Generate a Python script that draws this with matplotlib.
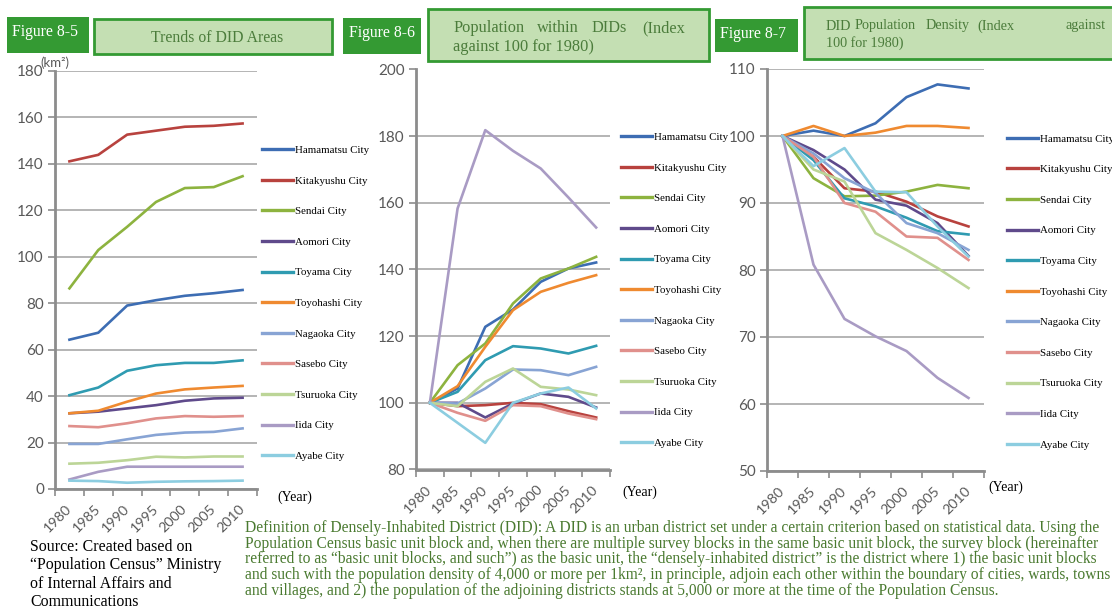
import numpy as np
import matplotlib.pyplot as plt
from matplotlib.patches import Rectangle

W, H = 1112, 606

anos = ['1980', '1985', '1990', '1995', '2000', '2005', '2010']
cidades = ['Hamamatsu City', 'Kitakyushu City', 'Sendai City', 'Aomori City',
           'Toyama City', 'Toyohashi City', 'Nagaoka City', 'Sasebo City',
           'Tsuruoka City', 'Iida City', 'Ayabe City']
cores = ['#3d6db3', '#b8423e', '#8db33f', '#5f4a8b', '#2f9bb1', '#ef8a30',
         '#88a4d4', '#e0908c', '#bcd597', '#a99bc4', '#8ccde0']

# Figura 8-5 : area das DIDs (km2)
area = [
    [64.3, 67.3, 79.0, 81.3, 83.2, 84.3, 85.7],        # Hamamatsu
    [141.1, 143.9, 152.6, 154.3, 156.0, 156.4, 157.4], # Kitakyushu
    [86.4, 102.9, 112.9, 123.6, 129.6, 130.0, 134.7],  # Sendai
    [32.6, 33.3, 34.7, 36.1, 38.0, 39.0, 39.3],        # Aomori
    [40.4, 43.7, 50.9, 53.3, 54.3, 54.3, 55.4],        # Toyama
    [32.6, 33.7, 37.6, 41.1, 42.9, 43.7, 44.4],        # Toyohashi
    [19.4, 19.4, 21.4, 23.3, 24.3, 24.6, 26.1],        # Nagaoka
    [27.1, 26.6, 28.3, 30.4, 31.4, 31.1, 31.4],        # Sasebo
    [10.9, 11.3, 12.4, 13.9, 13.6, 14.0, 14.0],        # Tsuruoka
    [4.1, 7.4, 9.6, 9.6, 9.6, 9.6, 9.6],               # Iida
    [3.6, 3.4, 2.7, 3.1, 3.3, 3.4, 3.6],               # Ayabe
]

# Figura 8-6 : populacao nas DIDs (1980 = 100)
populacao = [
    [100, 104.3, 122.8, 128.0, 136.3, 140.3, 142.1],   # Hamamatsu
    [100, 99.0, 99.3, 100.0, 99.6, 97.5, 95.6],        # Kitakyushu
    [100, 111.3, 117.8, 129.8, 137.3, 140.3, 143.8],   # Sendai
    [100, 100.0, 95.6, 99.8, 102.8, 101.8, 98.6],      # Aomori
    [100, 103.3, 112.8, 117.0, 116.3, 114.8, 117.1],   # Toyama
    [100, 105.0, 116.8, 127.8, 133.3, 136.0, 138.3],   # Toyohashi
    [100, 99.8, 104.3, 110.0, 109.8, 108.3, 110.8],    # Nagaoka
    [100, 97.0, 94.6, 99.3, 99.0, 96.8, 95.1],         # Sasebo
    [100, 99.0, 106.3, 110.3, 104.8, 104.0, 102.3],    # Tsuruoka
    [100, 158.3, 181.8, 175.6, 170.3, 161.6, 152.6],   # Iida
    [100, 94.0, 88.0, 100.0, 102.8, 104.6, 98.3],      # Ayabe
]

# Figura 8-7 : densidade populacional (1980 = 100)
densidade = [
    [100, 100.8, 100.0, 101.9, 105.8, 107.7, 107.1],   # Hamamatsu
    [100, 96.9, 92.2, 91.7, 90.2, 88.0, 86.5],         # Kitakyushu
    [100, 93.7, 91.0, 91.1, 91.7, 92.7, 92.2],         # Sendai
    [100, 97.9, 95.0, 90.5, 89.6, 87.0, 82.1],         # Aomori
    [100, 96.4, 90.7, 89.5, 87.8, 85.8, 85.3],         # Toyama
    [100, 101.5, 100.0, 100.5, 101.5, 101.5, 101.2],   # Toyohashi
    [100, 97.4, 93.7, 91.5, 87.0, 85.5, 83.0],         # Nagaoka
    [100, 96.9, 90.0, 88.7, 85.0, 84.8, 81.5],         # Sasebo
    [100, 95.0, 93.2, 85.5, 83.0, 80.3, 77.3],         # Tsuruoka
    [100, 80.8, 72.7, 70.1, 67.9, 63.9, 60.9],         # Iida
    [100, 95.5, 98.2, 91.7, 91.6, 86.5, 82.0],         # Ayabe
]


def rect(l, t, r, b):
    return [l / W, 1 - b / H, (r - l) / W, (b - t) / H]


fig = plt.figure(figsize=(W / 100, H / 100), dpi=100, facecolor='white')


def Painel(caixa, dados, ymin, ymax, passo, leg_x, leg_y, ano_x, ano_y):
    ax = fig.add_axes(rect(*caixa))
    x = np.arange(len(anos))
    for i, serie in enumerate(dados):
        ax.plot(x, serie, color=cores[i], lw=1.9, label=cidades[i])
    ax.set_xlim(-0.5, len(anos) - 0.5)
    ax.set_ylim(ymin, ymax)
    ax.set_yticks(np.arange(ymin, ymax + 1, passo))
    ax.grid(axis='y', color='#a0a0a0', lw=1.1)
    ax.set_axisbelow(True)
    ax.set_xticks(np.arange(-0.5, len(anos), 1))
    ax.set_xticklabels([])
    ax.set_xticks(x, minor=True)
    ax.set_xticklabels(anos, minor=True, rotation=45, ha='right', va='center',
                       rotation_mode='anchor', fontfamily='Lato', fontsize=10.3,
                       color='#595959')
    ax.tick_params(axis='x', which='minor', length=0, pad=13)
    ax.tick_params(axis='x', which='major', length=5, color='#8c8c8c', width=1.2)
    ax.tick_params(axis='y', length=5, color='#8c8c8c', width=1.2, pad=3,
                   labelsize=11, labelcolor='#595959')
    for t in ax.get_yticklabels():
        t.set_fontfamily('Lato')
    for s in ['top', 'right']:
        ax.spines[s].set_visible(False)
    for s in ['left', 'bottom']:
        ax.spines[s].set_color('#8c8c8c')
        ax.spines[s].set_linewidth(2)
    leg = ax.legend(loc='upper left', bbox_to_anchor=(leg_x / W, 1 - leg_y / H),
                    bbox_transform=fig.transFigure, frameon=False, borderpad=0,
                    borderaxespad=0, handlelength=2.9, handletextpad=0.15,
                    labelspacing=1.94, prop={'family': 'Liberation Serif', 'size': 7.8})
    for l in leg.get_lines():
        l.set_linewidth(2.4)
    fig.text(ano_x / W, 1 - ano_y / H, '(Year)', family='Liberation Serif',
             fontsize=10, va='center')
    return ax


ax1 = Painel((55, 71, 257, 489), area, 0, 180, 20, 262, 145.5, 277, 497)
ax2 = Painel((416, 69.5, 610, 469.5), populacao, 80, 200, 20, 621, 132.5, 622, 492)
ax3 = Painel((767, 69, 984, 471), densidade, 50, 110, 10, 1007, 134, 988, 487)

fig.text(40 / W, 1 - 63 / H, '(km²)', family='Lato', fontsize=9.5, color='#595959',
         va='center')

# cabecalhos
verde = '#349a33'
claro = '#c4dfb3'
texto_verde = '#4b7c3b'


def Caixa(l, t, r, b, cor, borda=None):
    fig.add_artist(Rectangle((l / W, 1 - b / H), (r - l) / W, (b - t) / H,
                             transform=fig.transFigure, facecolor=cor,
                             edgecolor=borda if borda else 'none', lw=2))


Caixa(7, 17, 89, 53, verde)
Caixa(94, 19, 332, 54, claro, verde)
Caixa(343, 18, 421, 54, verde)
Caixa(428, 9, 709, 61, claro, verde)
Caixa(715, 19, 798, 52, verde)
Caixa(804, 7, 1120, 59, claro, verde)

fs_fig = 11.3
fig.text(45 / W, 1 - 32 / H, 'Figure 8-5', color='white', family='Liberation Serif',
         fontsize=fs_fig, ha='center', va='center')
fig.text(382 / W, 1 - 33 / H, 'Figure 8-6', color='white', family='Liberation Serif',
         fontsize=fs_fig, ha='center', va='center')
fig.text(753 / W, 1 - 34 / H, 'Figure 8-7', color='white', family='Liberation Serif',
         fontsize=fs_fig, ha='center', va='center')

fig.text(217 / W, 1 - 38 / H, 'Trends of DID Areas', color=texto_verde,
         family='Liberation Serif', fontsize=11.3, ha='center', va='center')

# titulo justificado, palavra por palavra
for palavra, px in [('Population', 453), ('within', 537), ('DIDs', 592), ('(Index', 642)]:
    fig.text(px / W, 1 - 28 / H, palavra, color=texto_verde, family='Liberation Serif',
             fontsize=11.8, va='center')
fig.text(453 / W, 1 - 47 / H, 'against 100 for 1980)', color=texto_verde,
         family='Liberation Serif', fontsize=11.8, va='center')

for palavra, px in [('DID', 826), ('Population', 855), ('Density', 926),
                    ('(Index', 977), ('against', 1065)]:
    fig.text(px / W, 1 - 26 / H, palavra, color=texto_verde, family='Liberation Serif',
             fontsize=10.2, va='center')
fig.text(826 / W, 1 - 43 / H, '100 for 1980)', color=texto_verde,
         family='Liberation Serif', fontsize=10.2, va='center')

# fonte
fonte = ['Source: Created based on', '\u201cPopulation Census\u201d Ministry',
         'of Internal Affairs and', 'Communications']
for i, linha in enumerate(fonte):
    fig.text(30 / W, 1 - (547 + 18.3 * i) / H, linha, family='Liberation Serif',
             fontsize=11.4, va='center')

definicao = '\n'.join([
    'Definition of Densely-Inhabited District (DID): A DID is an urban district set under a certain criterion based on statistical data. Using the',
    'Population Census basic unit block and, when there are multiple survey blocks in the same basic unit block, the survey block (hereinafter',
    'referred to as \u201cbasic unit blocks, and such\u201d) as the basic unit, the \u201cdensely-inhabited district\u201d is the district where 1) the basic unit blocks',
    'and such with the population density of 4,000 or more per 1km\u00b2, in principle, adjoin each other within the boundary of cities, wards, towns',
    'and villages, and 2) the population of the adjoining districts stands at 5,000 or more at the time of the Population Census.',
])
fig.text(245 / W, 1 - 520 / H, definicao, family='Liberation Serif', fontsize=11.2,
         color='#4a7a30', va='top', linespacing=0.97)

fig.savefig('out.png', dpi=100)
